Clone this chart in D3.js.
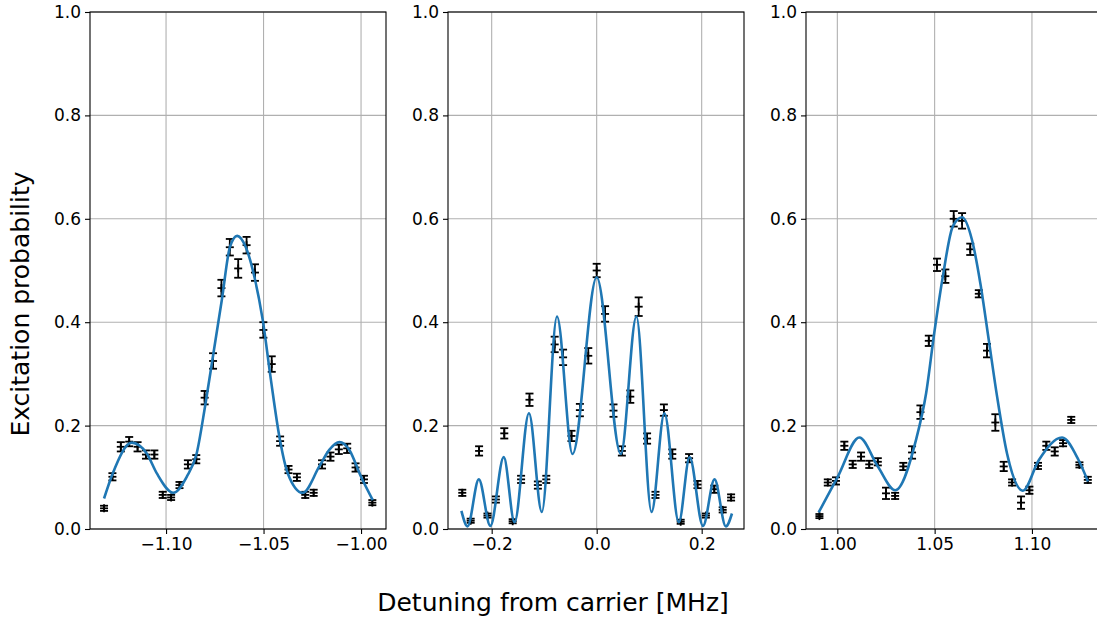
<!DOCTYPE html>
<html lang="en">
<head>
<meta charset="UTF-8">
<title>Excitation probability vs detuning</title>
<script src="https://d3js.org/d3.v7.min.js"></script>
<style>
  body { margin: 0; background: #fff; }
  svg text { font-family: "DejaVu Sans", sans-serif; fill: #000; }
</style>
</head>
<body>
<script>
const redX = [-1.1318, -1.1275, -1.1232, -1.1189, -1.1146, -1.1103, -1.1060, -1.1017, -1.0974, -1.0931, -1.0888,
  -1.0845, -1.0802, -1.0759, -1.0716, -1.0673, -1.0630, -1.0587, -1.0544, -1.0501, -1.0458, -1.0415,
  -1.0372, -1.0329, -1.0286, -1.0243, -1.0200, -1.0157, -1.0114, -1.0071, -1.0028, -0.9985, -0.9942];
const redY = [0.040, 0.101, 0.159, 0.169, 0.159, 0.144, 0.144, 0.066, 0.061, 0.085, 0.125,
  0.135, 0.254, 0.325, 0.466, 0.545, 0.504, 0.549, 0.496, 0.385, 0.319, 0.170,
  0.115, 0.100, 0.066, 0.070, 0.125, 0.140, 0.154, 0.156, 0.119, 0.096, 0.051];
const redErr = [0.005, 0.007, 0.009, 0.009, 0.009, 0.008, 0.008, 0.006, 0.005, 0.006, 0.008,
  0.008, 0.013, 0.015, 0.016, 0.016, 0.018, 0.016, 0.016, 0.015, 0.015, 0.009,
  0.007, 0.007, 0.006, 0.006, 0.008, 0.008, 0.009, 0.009, 0.008, 0.007, 0.005];

const carX = [-0.256, -0.240, -0.224, -0.208, -0.192, -0.176, -0.160, -0.144, -0.128, -0.112, -0.096,
  -0.080, -0.064, -0.048, -0.032, -0.016, 0.000, 0.016, 0.032, 0.048, 0.064, 0.080,
  0.096, 0.112, 0.128, 0.144, 0.160, 0.176, 0.192, 0.208, 0.224, 0.240, 0.256];
const carY = [0.070, 0.016, 0.151, 0.026, 0.057, 0.185, 0.015, 0.096, 0.250, 0.085, 0.096,
  0.357, 0.332, 0.180, 0.230, 0.335, 0.500, 0.416, 0.229, 0.151, 0.256, 0.430,
  0.175, 0.066, 0.230, 0.145, 0.014, 0.137, 0.086, 0.026, 0.077, 0.037, 0.061];
const carErr = [0.006, 0.004, 0.009, 0.004, 0.006, 0.010, 0.004, 0.007, 0.012, 0.007, 0.007,
  0.015, 0.015, 0.010, 0.012, 0.015, 0.013, 0.015, 0.012, 0.009, 0.012, 0.018,
  0.010, 0.006, 0.011, 0.009, 0.004, 0.008, 0.007, 0.004, 0.007, 0.005, 0.006];

const blueX = [0.9908, 0.9951, 0.9993, 1.0036, 1.0079, 1.0122, 1.0164, 1.0208, 1.0250, 1.0297, 1.0339,
  1.0384, 1.0427, 1.0470, 1.0512, 1.0555, 1.0598, 1.0641, 1.0683, 1.0727, 1.0769, 1.0812,
  1.0855, 1.0898, 1.0944, 1.0987, 1.1031, 1.1074, 1.1117, 1.1160, 1.1202, 1.1244, 1.1287];
const blueY = [0.025, 0.090, 0.093, 0.161, 0.125, 0.140, 0.125, 0.130, 0.069, 0.064, 0.121,
  0.148, 0.226, 0.364, 0.511, 0.489, 0.600, 0.596, 0.541, 0.455, 0.345, 0.206,
  0.121, 0.090, 0.051, 0.075, 0.122, 0.161, 0.150, 0.166, 0.211, 0.124, 0.095];
const blueErr = [0.004, 0.006, 0.007, 0.008, 0.007, 0.008, 0.007, 0.007, 0.011, 0.006, 0.007,
  0.012, 0.013, 0.010, 0.012, 0.013, 0.015, 0.015, 0.011, 0.007, 0.013, 0.016,
  0.009, 0.006, 0.012, 0.007, 0.006, 0.008, 0.008, 0.006, 0.006, 0.005, 0.006];

// fitted curves, sampled off the plot
const redFitX = [-1.1318, -1.1273, -1.1176, -1.1099, -1.1048, -1.0963, -1.0894, -1.0843, -1.0800, -1.0757,
  -1.0714, -1.0672, -1.0635, -1.0592, -1.0547, -1.0504, -1.0462, -1.0419, -1.0376, -1.0299,
  -1.0214, -1.0163, -1.0111, -1.0060, -1.0000, -0.9940];
const redFitY = [0.059, 0.108, 0.167, 0.146, 0.108, 0.070, 0.101, 0.146, 0.237, 0.340,
  0.443, 0.546, 0.567, 0.546, 0.488, 0.404, 0.288, 0.179, 0.108, 0.070,
  0.121, 0.153, 0.168, 0.153, 0.101, 0.056];

const carFitX = [-0.2577, -0.2460, -0.2245, -0.2025, -0.1770, -0.1565, -0.1290, -0.1045, -0.0756, -0.0460,
  0.0000, 0.0460, 0.0756, 0.1045, 0.1290, 0.1565, 0.1770, 0.2025, 0.2245, 0.2460, 0.2577];
const carFitY = [0.035, 0.005, 0.096, 0.006, 0.139, 0.013, 0.224, 0.033, 0.411, 0.145,
  0.487, 0.145, 0.411, 0.033, 0.224, 0.013, 0.139, 0.006, 0.096, 0.005, 0.030];

const blueFitX = [0.9904, 1.0002, 1.0113, 1.0208, 1.0298, 1.0404, 1.0456, 1.0498, 1.0542, 1.0593,
  1.0641, 1.0692, 1.0735, 1.0778, 1.0821, 1.0872, 1.0953, 1.1035, 1.1155, 1.1240, 1.1288];
const blueFitY = [0.032, 0.101, 0.177, 0.121, 0.075, 0.172, 0.262, 0.379, 0.488, 0.585,
  0.603, 0.559, 0.475, 0.366, 0.256, 0.146, 0.074, 0.133, 0.177, 0.133, 0.092];

const yTicks = [0, 0.2, 0.4, 0.6, 0.8, 1.0];
const redTicks = [-1.10, -1.05, -1.00];
const carTicks = [-0.2, 0.0, 0.2];
const blueTicks = [1.00, 1.05, 1.10];

const panels = [
  {x: redX, y: redY, err: redErr, fx: redFitX, fy: redFitY, dom: [-1.139, -0.9872], ticks: redTicks, fmt: ".2f"},
  {x: carX, y: carY, err: carErr, fx: carFitX, fy: carFitY, dom: [-0.2832, 0.2806], ticks: carTicks, fmt: ".1f"},
  {x: blueX, y: blueY, err: blueErr, fx: blueFitX, fy: blueFitY, dom: [0.9839, 1.136], ticks: blueTicks, fmt: ".2f"}
];

const W = 1097, H = 622;
const plotTop = 12, plotBottom = 529, pw = 296;
const lefts = [90, 448, 806];
const cap = 4;

const svg = d3.select("body").append("svg")
  .attr("width", W).attr("height", H);

const y = d3.scaleLinear().domain([0, 1]).range([plotBottom, plotTop]);

panels.forEach((p, i) => {
  const x = d3.scaleLinear().domain(p.dom).range([lefts[i], lefts[i] + pw]);
  const g = svg.append("g");

  // grid
  g.selectAll(".gy").data(yTicks).enter().append("line")
    .attr("x1", lefts[i]).attr("x2", lefts[i] + pw)
    .attr("y1", d => y(d)).attr("y2", d => y(d))
    .attr("stroke", "#b0b0b0").attr("stroke-width", 1.1);
  g.selectAll(".gx").data(p.ticks).enter().append("line")
    .attr("x1", d => x(d)).attr("x2", d => x(d))
    .attr("y1", plotTop).attr("y2", plotBottom)
    .attr("stroke", "#b0b0b0").attr("stroke-width", 1.1);

  // error bars
  const pts = p.x.map((v, j) => ({x: v, y: p.y[j], e: p.err[j]}));
  const eb = g.selectAll(".eb").data(pts).enter().append("g")
    .attr("stroke", "#000").attr("stroke-width", 1.8);
  eb.append("line")
    .attr("x1", d => x(d.x)).attr("x2", d => x(d.x))
    .attr("y1", d => y(d.y - d.e)).attr("y2", d => y(d.y + d.e));
  eb.append("line")
    .attr("x1", d => x(d.x) - cap).attr("x2", d => x(d.x) + cap)
    .attr("y1", d => y(d.y - d.e)).attr("y2", d => y(d.y - d.e));
  eb.append("line")
    .attr("x1", d => x(d.x) - cap).attr("x2", d => x(d.x) + cap)
    .attr("y1", d => y(d.y + d.e)).attr("y2", d => y(d.y + d.e));
  // '+' marker
  eb.append("line")
    .attr("x1", d => x(d.x) - cap).attr("x2", d => x(d.x) + cap)
    .attr("y1", d => y(d.y)).attr("y2", d => y(d.y));
  eb.append("line")
    .attr("x1", d => x(d.x)).attr("x2", d => x(d.x))
    .attr("y1", d => y(d.y) - cap).attr("y2", d => y(d.y) + cap);

  // fit curve
  const fit = p.fx.map((v, j) => [v, p.fy[j]]);
  g.append("path")
    .attr("d", d3.line().x(d => x(d[0])).y(d => y(d[1])).curve(d3.curveMonotoneX)(fit))
    .attr("fill", "none").attr("stroke", "#1f77b4").attr("stroke-width", 2.6);

  // spines
  g.append("rect")
    .attr("x", lefts[i]).attr("y", plotTop).attr("width", pw).attr("height", plotBottom - plotTop)
    .attr("fill", "none").attr("stroke", "#000").attr("stroke-width", 1.1);

  // axes
  const xa = g.append("g").attr("transform", `translate(0,${plotBottom})`)
    .call(d3.axisBottom(x).tickValues(p.ticks).tickFormat(d3.format(p.fmt)).tickSize(5).tickPadding(4));
  const ya = g.append("g").attr("transform", `translate(${lefts[i]},0)`)
    .call(d3.axisLeft(y).tickValues(yTicks).tickFormat(d3.format(".1f")).tickSize(5).tickPadding(4));
  [xa, ya].forEach(a => {
    a.select(".domain").remove();
    a.selectAll(".tick line").attr("stroke", "#000").attr("stroke-width", 1.1);
    a.selectAll("text").attr("font-size", 17).attr("font-family", "DejaVu Sans");
  });
});

svg.append("text")
  .attr("x", 553).attr("y", 611)
  .attr("text-anchor", "middle")
  .attr("font-size", 25)
  .text("Detuning from carrier [MHz]");

svg.append("text")
  .attr("transform", "translate(29,304) rotate(-90)")
  .attr("text-anchor", "middle")
  .attr("font-size", 25)
  .text("Excitation probability");
</script>
</body>
</html>
